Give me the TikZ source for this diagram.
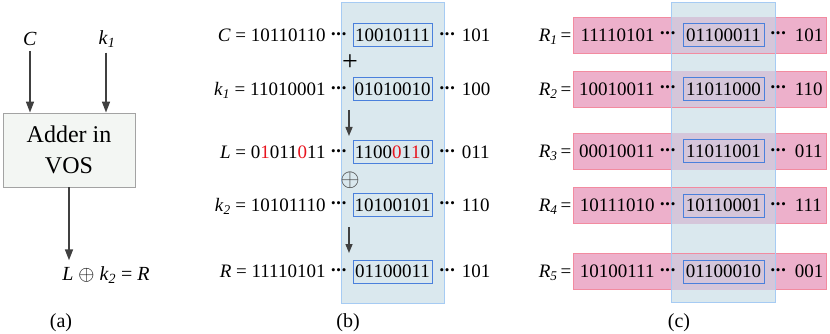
\documentclass[tikz,border=0pt]{standalone}
\usepackage{fontspec}
\setmainfont{Liberation Serif}
\usetikzlibrary{arrows.meta}
\definecolor{colfill}{HTML}{DAE8EE}
\definecolor{colline}{HTML}{A6CBF3}
\definecolor{boxblue}{HTML}{4A80DC}
\definecolor{pinkfill}{HTML}{EDB0CB}
\definecolor{pinkline}{HTML}{F28BA0}
\definecolor{overfill}{HTML}{D5C6DA}
\definecolor{arrgray}{HTML}{404040}
\definecolor{adderfill}{HTML}{F3F6F3}
\definecolor{adderline}{HTML}{A3A3A3}
\definecolor{bitred}{HTML}{E8141E}
\newcommand\onedot{\kern0.9pt\raisebox{3.6pt}{\fontsize{13}{13}\selectfont\textbullet}\kern0.9pt}
\newcommand\dd{\mbox{\onedot\kern-1pt\onedot\kern-1pt\onedot}}
\newcommand\rd[1]{\textcolor{bitred}{#1}}
\newcommand\sub[1]{\textsubscript{\textit{#1}}}
\begin{document}
\begin{tikzpicture}[x=1pt,y=-1pt,
  txt/.style={inner sep=0pt,font=\fontsize{19}{22}\selectfont},
  lbl/.style={inner sep=0pt,font=\fontsize{20}{24}\selectfont},
  ibox/.style={draw=boxblue,line width=1pt,minimum width=79pt,minimum height=23pt,inner sep=0pt,font=\fontsize{19}{22}\selectfont},
  ibox2/.style={ibox,minimum width=81pt},
  column/.style={fill=colfill,minimum width=103pt,minimum height=300pt,inner sep=0pt},
  pinkbar/.style={fill=pinkfill,draw=pinkline,line width=0.8pt,minimum width=253pt,minimum height=36pt,inner sep=0pt},
  arr/.style={draw=arrgray,line width=1.6pt,-{Triangle[length=11pt,width=8pt]}},
  adder/.style={fill=adderfill,draw=adderline,line width=0.9pt,minimum width=132pt,minimum height=74pt,align=center,font=\fontsize{24}{31}\selectfont}
]
\useasboundingbox (0,0) rectangle (830,334);

% ---------- panel (a)
\node[lbl] (aC) at (30,39) {\textit{C}};
\node[lbl] (ak) at (107,39) {\textit{k}\sub{1}};
\node[adder] (adder) at (69,150) {Adder in\\VOS};
\node[lbl] (aR) at (106,275) {\textit{L} $\oplus$ \textit{k}\sub{2} = \textit{R}};
\draw[arr,shorten <=5pt] (aC.south) -- (aC.south |- adder.north);
\draw[arr,shorten <=5pt] (ak.south -| 106,0) -- (106,0 |- adder.north);
\draw[arr,shorten >=6pt] (adder.south) -- (adder.south |- aR.north);
\node[lbl] (capa) at (61,323) {(a)};

% ---------- panel (b)
\node[column] (colb) at (393,153) {};
\draw[colline,line width=0.9pt] (colb.north west) rectangle (colb.south east);

\node[ibox] (bCb) at (392.5,35.5) {10010111};
\node[ibox] (bkb) at (392.5,89.5) {01010010};
\node[ibox] (bLb) at (392.5,152.5) {1100\rd{0}1\rd{1}0};
\node[ibox] (bKb) at (392.5,205) {10100101};
\node[ibox] (bRb) at (392.5,271.5) {01100011};

\node[txt,anchor=base east] (bCl) at ([xshift=-5pt]bCb.base west) {\textit{C} = 10110110 \dd};
\node[txt,anchor=base east] (bkl) at ([xshift=-5pt]bkb.base west) {\textit{k}\sub{1} = 11010001 \dd};
\node[txt,anchor=base east] (bLl) at ([xshift=-5pt]bLb.base west) {\textit{L} = 0\rd{1}011\rd{0}11 \dd};
\node[txt,anchor=base east] (bKl) at ([xshift=-5pt]bKb.base west) {\textit{k}\sub{2} = 10101110 \dd};
\node[txt,anchor=base east] (bRl) at ([xshift=-5pt]bRb.base west) {\textit{R} = 11110101 \dd};

\node[txt,anchor=base west] (bCr) at ([xshift=6pt]bCb.base east) {\dd\hspace{6pt}101};
\node[txt,anchor=base west] (bkr) at ([xshift=6pt]bkb.base east) {\dd\hspace{6pt}100};
\node[txt,anchor=base west] (bLr) at ([xshift=6pt]bLb.base east) {\dd\hspace{6pt}011};
\node[txt,anchor=base west] (bKr) at ([xshift=6pt]bKb.base east) {\dd\hspace{6pt}110};
\node[txt,anchor=base west] (bRr) at ([xshift=6pt]bRb.base east) {\dd\hspace{6pt}101};

\node[inner sep=0pt,font=\fontsize{28}{30}\selectfont] (plus) at (350,63) {+};
\node[inner sep=0pt,font=\fontsize{27}{30}\selectfont,text=arrgray] (xor) at (350,180) {$\oplus$};
\coordinate (a1s) at (349,110);
\coordinate (a1e) at (349,136);
\coordinate (a2s) at (349,227);
\coordinate (a2e) at (349,253);
\draw[arr,line width=1.4pt,-{Triangle[length=9pt,width=7pt]}] (a1s) -- (a1e);
\draw[arr,line width=1.4pt,-{Triangle[length=9pt,width=7pt]}] (a2s) -- (a2e);
\node[lbl] (capb) at (348,323) {(b)};

% ---------- panel (c)
\node[column] (colc) at (723.5,152.5) {};
\node[pinkbar] (cb1) at (699.5,35) {};
\node[pinkbar] (cb2) at (699.5,89) {};
\node[pinkbar] (cb3) at (699.5,151.5) {};
\node[pinkbar] (cb4) at (699.5,205.5) {};
\node[pinkbar] (cb5) at (699.5,271.5) {};
\foreach \b in {cb1,cb2,cb3,cb4,cb5}{
  \fill[overfill] ([yshift=-0.4pt]\b.north -| colc.west) rectangle ([yshift=0.4pt]\b.south -| colc.east);
}
\draw[colline,line width=0.9pt] (colc.north west) rectangle (colc.south east);

\node[ibox2] (cx1) at (723.5,35) {01100011};
\node[ibox2] (cx2) at (723.5,89) {11011000};
\node[ibox2] (cx3) at (723.5,151.5) {11011001};
\node[ibox2] (cx4) at (723.5,205.5) {10110001};
\node[ibox2] (cx5) at (723.5,271.5) {01100010};

\node[txt,anchor=base east] (cl1) at ([xshift=-6pt]cx1.base west) {11110101 \dd};
\node[txt,anchor=base east] (cl2) at ([xshift=-6pt]cx2.base west) {10010011 \dd};
\node[txt,anchor=base east] (cl3) at ([xshift=-6pt]cx3.base west) {00010011 \dd};
\node[txt,anchor=base east] (cl4) at ([xshift=-6pt]cx4.base west) {10111010 \dd};
\node[txt,anchor=base east] (cl5) at ([xshift=-6pt]cx5.base west) {10100111 \dd};

\node[txt,anchor=base west] (cr1) at ([xshift=5pt]cx1.base east) {\dd\hspace{8pt}101};
\node[txt,anchor=base west] (cr2) at ([xshift=5pt]cx2.base east) {\dd\hspace{8pt}110};
\node[txt,anchor=base west] (cr3) at ([xshift=5pt]cx3.base east) {\dd\hspace{8pt}011};
\node[txt,anchor=base west] (cr4) at ([xshift=5pt]cx4.base east) {\dd\hspace{8pt}111};
\node[txt,anchor=base west] (cr5) at ([xshift=5pt]cx5.base east) {\dd\hspace{8pt}001};

\node[txt,anchor=base east] (cR1) at ([xshift=-1pt]cb1.west |- cx1.base) {\textit{R}\sub{1}\,=};
\node[txt,anchor=base east] (cR2) at ([xshift=-1pt]cb2.west |- cx2.base) {\textit{R}\sub{2}\,=};
\node[txt,anchor=base east] (cR3) at ([xshift=-1pt]cb3.west |- cx3.base) {\textit{R}\sub{3}\,=};
\node[txt,anchor=base east] (cR4) at ([xshift=-1pt]cb4.west |- cx4.base) {\textit{R}\sub{4}\,=};
\node[txt,anchor=base east] (cR5) at ([xshift=-1pt]cb5.west |- cx5.base) {\textit{R}\sub{5}\,=};
\node[lbl] (capc) at (679,323) {(c)};
\end{tikzpicture}
\end{document}
